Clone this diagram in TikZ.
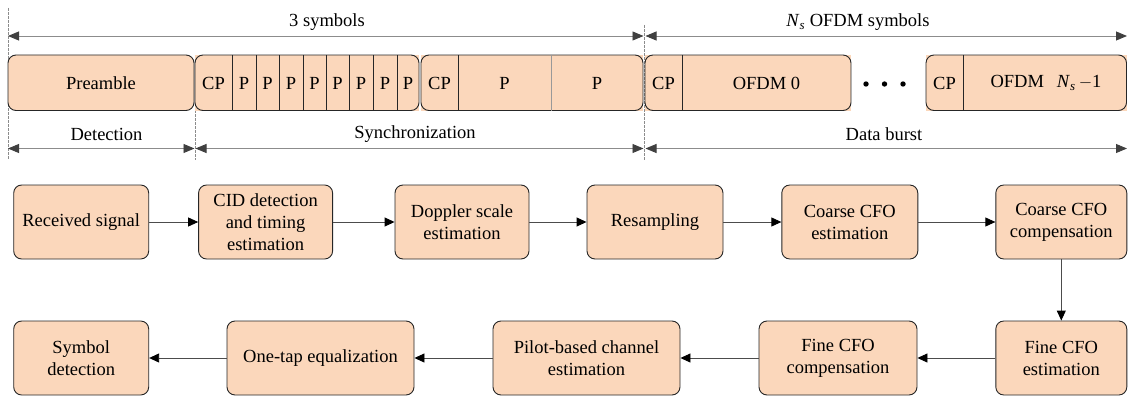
\documentclass[tikz,border=0pt]{standalone}
\usepackage{fontspec}
\setmainfont{Liberation Serif}
\usetikzlibrary{arrows.meta}
\definecolor{boxfill}{RGB}{251,215,187}
\begin{document}
\begin{tikzpicture}[x=1pt,y=-1pt,
  font=\fontsize{18.5}{22}\selectfont,
  fb/.style={draw=black!85, line width=0.9pt, fill=boxfill, rounded corners=8pt,
    minimum height=74pt, align=center, inner sep=0pt},
  flow/.style={draw=black!70, line width=0.9pt, -{Triangle[length=10pt,width=9pt,color=black]}},
  dim/.style={draw=black!45, line width=0.9pt,
    {Triangle[length=11pt,width=9pt,color=black!75]}-{Triangle[length=11pt,width=9pt,color=black!75]}},
  guide/.style={draw=black!45, line width=0.6pt, dash pattern=on 3pt off 1pt},
  frame/.style={draw=black!85, line width=0.9pt, rounded corners=8pt},
  sep/.style={draw=black!85, line width=0.8pt},
  lab/.style={inner sep=0pt}]
\useasboundingbox (0,0) rectangle (1128,396);

% guide lines
\coordinate (g1a) at (8,8);      \coordinate (g1b) at (8,160);
\coordinate (g2a) at (195,110);  \coordinate (g2b) at (195,160);
\coordinate (g3a) at (644.5,25); \coordinate (g3b) at (644.5,160);
\draw[guide] (g1a) -- (g1b);
\draw[guide] (g2a) -- (g2b);
\draw[guide] (g3a) -- (g3b);

% dimension arrows
\coordinate (ta) at (8,36);     \coordinate (tb) at (643.5,36);
\coordinate (tc) at (645.5,36); \coordinate (td) at (1127,36);
\draw[dim] (ta) -- (tb);
\draw[dim] (tc) -- (td);
\node[lab] (l3s) at (327,22) {3 symbols};
\node[lab] (lns) at (858,22) {\textit{N}\textsubscript{\textit{s}} OFDM symbols};

\coordinate (ba) at (8,148.5);     \coordinate (bb) at (194.5,148.5);
\coordinate (bc) at (195.5,148.5); \coordinate (bd) at (643.5,148.5);
\coordinate (be) at (645.5,148.5); \coordinate (bf) at (1127,148.5);
\draw[dim] (ba) -- (bb);
\draw[dim] (bc) -- (bd);
\draw[dim] (be) -- (bf);
\node[lab] (ldet) at (106.5,134) {Detection};
\node[lab] (lsyn) at (415,134) {Synchronization};
\node[lab] (ldat) at (884,134) {Data burst};

% frame: preamble
\draw[frame, fill=boxfill] (8,55) rectangle (194,110.5);
\node[lab] (pre) at (101,83) {Preamble};

% sync box 1
\fill[boxfill] (195,55) rectangle (419,110.5);
\draw[frame] (195,55) rectangle (419,110.5);
\foreach \x in {232,256,279,303,326,349,373,397} \draw[sep] (\x,55) -- (\x,110.5);
\node[lab] (cp1) at (213.5,83) {CP};
\foreach \x/\n in {244/a,267.5/b,291/c,314.5/d,337.5/e,361/f,385/g,408/h}
  \node[lab] (p\n) at (\x,83) {P};

% sync box 2
\fill[boxfill] (421,55) rectangle (643,110.5);
\draw[frame] (421,55) rectangle (643,110.5);
\draw[sep] (458,55) -- (458,110.5);
\draw[draw=black!40, line width=0.8pt] (551,55) -- (551,110.5);
\node[lab] (cp2) at (439.5,83) {CP};
\node[lab] (pq1) at (504.5,83) {P};
\node[lab] (pq2) at (597,83) {P};

% data box 0
\fill[boxfill] (645,55) rectangle (851,110.5);
\draw[frame] (645,55) rectangle (851,110.5);
\draw[sep] (682,55) -- (682,110.5);
\node[lab] (cp3) at (663.5,83) {CP};
\node[lab] (of0) at (766.5,83) {OFDM 0};

% dots
\fill (866,84) circle (2.7pt);
\fill (884.5,84) circle (2.7pt);
\fill (903,84) circle (2.7pt);

% last data box
\fill[boxfill] (926,55) rectangle (1126.5,110.5);
\draw[frame] (926,55) rectangle (1126.5,110.5);
\draw[sep] (963,55) -- (963,110.5);
\node[lab] (cp4) at (944.5,83) {CP};
\node[lab] (ofn) at (1046,83) {OFDM\hspace{0.7em}\textit{N}\textsubscript{\textit{s}}\,$-$1};

% flow row 1
\node[fb, minimum width=135pt] (r1) at (81.2,222) {Received signal};
\node[fb, minimum width=134pt] (r2) at (265.6,222) {CID detection\\and timing\\estimation};
\node[fb, minimum width=134pt] (r3) at (462,222) {Doppler scale\\estimation};
\node[fb, minimum width=136pt] (r4) at (655,222) {Resampling};
\node[fb, minimum width=136pt] (r5) at (849.8,222) {Coarse CFO\\estimation};
\node[fb, minimum width=131pt] (r6) at (1061.3,222) {Coarse CFO\\compensation};

% flow row 2
\node[fb, minimum width=135pt] (s1) at (81.2,358) {Symbol\\detection};
\node[fb, minimum width=187pt] (s2) at (320.5,358) {One-tap equalization};
\node[fb, minimum width=187pt] (s3) at (586.5,358) {Pilot-based channel\\estimation};
\node[fb, minimum width=158pt] (s4) at (838,358) {Fine CFO\\compensation};
\node[fb, minimum width=131pt] (s5) at (1061.3,358) {Fine CFO\\estimation};

\draw[flow] (r1) -- (r2);
\draw[flow] (r2) -- (r3);
\draw[flow] (r3) -- (r4);
\draw[flow] (r4) -- (r5);
\draw[flow] (r5) -- (r6);
\draw[flow] (r6) -- (s5);
\draw[flow] (s5) -- (s4);
\draw[flow] (s4) -- (s3);
\draw[flow] (s3) -- (s2);
\draw[flow] (s2) -- (s1);
\end{tikzpicture}
\end{document}
